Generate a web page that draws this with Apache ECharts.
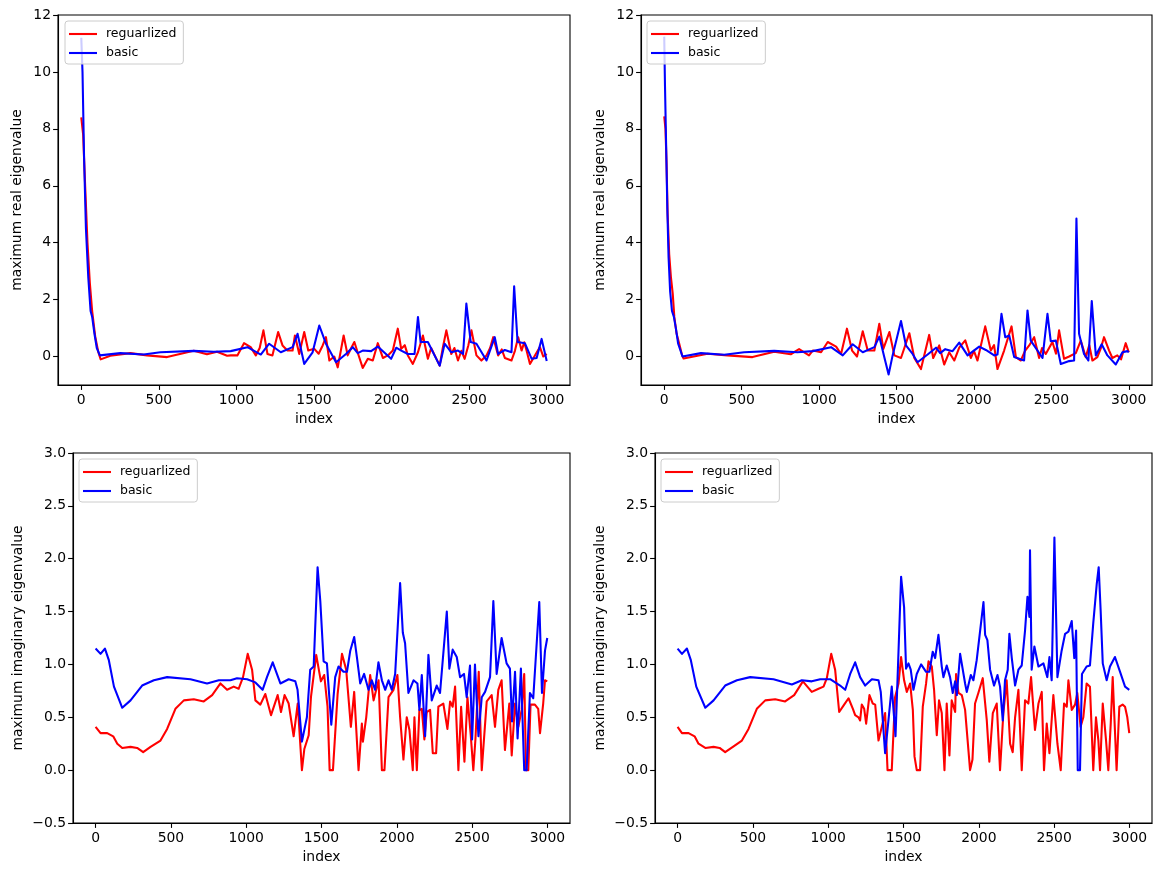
<!DOCTYPE html>
<html>
<head>
<meta charset="utf-8">
<script src="https://cdn.jsdelivr.net/npm/echarts@6/dist/echarts.min.js"></script>
<style>
html,body{margin:0;padding:0;background:#fff;}
#chart{width:1164px;height:876px;}
</style>
</head>
<body>
<div id="chart"></div>
<script>
// ---- data: [index, value] pairs ----
const seriesNames = ['reguarlized', 'basic'];
const xTicks = [0, 500, 1000, 1500, 2000, 2500, 3000];
const yTicksReal = [0, 2, 4, 6, 8, 10, 12];
const yTicksImag = [-0.5, 0, 0.5, 1.0, 1.5, 2.0, 2.5, 3.0];
const xLabel = 'index';
const yLabelReal = 'maximum real eigenvalue';
const yLabelImag = 'maximum imaginary eigenvalue';

// top-left: real part, run A
const realRegA = [[0,8.4],[12,7.8],[25,6.0],[40,4.0],[55,2.6],[70,1.6],[90,0.7],[110,0.15],[125,-0.1],[187,0.03],[316,0.12],[424,0.04],[553,-0.02],[725,0.2],[810,0.08],[875,0.17],[940,0.03],[963,0.04],[1006,0.04],[1049,0.47],[1092,0.33],[1125,0.04],[1150,0.3],[1174,0.92],[1200,0.09],[1232,0.04],[1269,0.86],[1297,0.39],[1329,0.21],[1362,0.21],[1377,0.74],[1405,0.09],[1437,0.86],[1463,0.21],[1502,0.27],[1530,0.1],[1556,0.39],[1577,0.68],[1599,-0.14],[1631,0.0],[1653,-0.38],[1691,0.74],[1717,0.04],[1740,0.3],[1760,0.51],[1793,-0.05],[1814,-0.4],[1847,-0.08],[1879,-0.14],[1911,0.47],[1944,-0.05],[1976,0.04],[2008,0.21],[2040,0.98],[2062,0.27],[2085,0.4],[2105,0.04],[2137,-0.26],[2170,0.15],[2202,0.74],[2234,-0.08],[2255,0.3],[2278,0.04],[2310,-0.32],[2330,0.3],[2353,0.92],[2385,0.09],[2405,0.3],[2428,-0.14],[2450,0.2],[2471,-0.08],[2495,0.4],[2515,0.92],[2547,0.04],[2579,-0.14],[2612,0.04],[2635,0.3],[2655,0.68],[2687,0.04],[2710,0.25],[2730,-0.05],[2773,-0.14],[2795,0.2],[2816,0.68],[2838,0.21],[2855,0.5],[2870,0.21],[2892,-0.26],[2924,0.04],[2956,0.33],[2978,0.0],[3000,0.09]];
const realBasicA = [[0,11.2],[8,10.0],[18,7.0],[30,4.5],[45,2.8],[60,1.6],[70,1.4],[85,0.8],[100,0.3],[120,0.04],[252,0.12],[402,0.07],[510,0.15],[725,0.2],[854,0.17],[963,0.19],[1071,0.33],[1157,0.07],[1211,0.45],[1286,0.15],[1362,0.33],[1394,0.8],[1437,-0.26],[1491,0.15],[1534,1.09],[1577,0.45],[1642,-0.2],[1706,0.09],[1750,0.33],[1782,0.12],[1814,0.21],[1868,0.19],[1911,0.35],[1997,-0.08],[2030,0.31],[2062,0.21],[2105,0.09],[2148,0.09],[2170,1.39],[2187,0.51],[2234,0.51],[2310,-0.32],[2342,0.45],[2385,0.15],[2428,0.21],[2461,0.09],[2482,1.86],[2510,0.51],[2547,0.45],[2612,-0.14],[2665,0.68],[2687,0.09],[2730,0.23],[2773,0.15],[2790,2.47],[2812,0.51],[2859,0.47],[2903,-0.08],[2935,-0.05],[2967,0.62],[3000,-0.16]];

// top-right: real part, run B
const realRegB = [[0,8.44],[8,8.0],[15,6.8],[22,5.0],[32,3.6],[43,2.8],[55,2.2],[65,1.4],[80,0.8],[97,0.45],[115,0.05],[125,-0.07],[280,0.1],[408,0.04],[570,-0.02],[710,0.17],[817,0.08],[871,0.26],[935,0.04],[959,0.21],[1013,0.15],[1056,0.51],[1110,0.35],[1142,0.09],[1180,0.98],[1213,0.21],[1245,0.0],[1282,0.89],[1314,0.21],[1357,0.21],[1389,1.15],[1415,0.27],[1454,0.86],[1486,0.04],[1529,-0.05],[1583,0.82],[1615,-0.05],[1658,-0.44],[1711,0.76],[1737,-0.05],[1776,0.39],[1808,-0.28],[1840,0.15],[1873,-0.14],[1905,0.31],[1944,0.57],[1980,-0.05],[2000,0.2],[2023,-0.14],[2073,1.06],[2109,0.21],[2130,0.4],[2152,-0.44],[2195,0.21],[2243,1.06],[2271,-0.02],[2303,-0.14],[2330,0.2],[2357,0.39],[2389,0.68],[2421,-0.05],[2440,0.3],[2464,0.09],[2507,0.51],[2530,0.1],[2550,0.92],[2582,-0.08],[2615,0.0],[2658,0.12],[2690,0.56],[2722,-0.02],[2745,0.4],[2765,-0.14],[2797,-0.02],[2820,0.3],[2840,0.68],[2873,0.21],[2894,-0.05],[2926,0.04],[2950,-0.1],[2980,0.47],[3000,0.15]];
const realBasicB = [[0,11.24],[5,9.5],[12,7.5],[20,5.2],[28,3.5],[38,2.3],[50,1.6],[62,1.4],[75,1.0],[90,0.45],[118,0.0],[237,0.12],[387,0.06],[516,0.15],[710,0.2],[860,0.15],[959,0.19],[1077,0.33],[1153,0.04],[1217,0.43],[1282,0.15],[1357,0.33],[1389,0.7],[1421,-0.02],[1449,-0.63],[1475,0.04],[1529,1.25],[1561,0.39],[1604,0.09],[1636,-0.2],[1701,0.07],[1755,0.31],[1782,0.12],[1815,0.26],[1862,0.19],[1905,0.49],[1959,0.04],[2034,0.35],[2077,0.23],[2131,0.04],[2152,0.07],[2178,1.5],[2202,0.68],[2228,0.74],[2260,-0.02],[2324,-0.14],[2346,1.62],[2367,0.56],[2443,-0.05],[2475,1.5],[2496,0.54],[2529,0.56],[2561,-0.26],[2615,-0.16],[2647,-0.14],[2662,4.85],[2679,0.8],[2711,0.09],[2739,-0.14],[2761,1.95],[2787,0.04],[2825,0.43],[2862,0.04],[2916,-0.28],[2959,0.15],[2991,0.19],[3000,0.15]];

// bottom-left: imaginary part, run A
const imagRegA = [[0,0.41],[33,0.35],[77,0.35],[117,0.32],[144,0.25],[177,0.21],[232,0.22],[276,0.21],[316,0.17],[365,0.22],[431,0.28],[475,0.39],[530,0.58],[586,0.66],[652,0.67],[718,0.65],[774,0.71],[829,0.82],[873,0.76],[917,0.79],[950,0.77],[979,0.88],[1010,1.1],[1039,0.95],[1061,0.66],[1094,0.62],[1127,0.72],[1165,0.52],[1209,0.71],[1231,0.55],[1255,0.71],[1282,0.63],[1315,0.32],[1342,0.63],[1370,0],[1386,0.2],[1415,0.33],[1430,0.69],[1465,1.09],[1496,0.84],[1518,0.9],[1540,0.6],[1554,0],[1576,0],[1607,0.72],[1636,1.1],[1664,0.95],[1695,0.41],[1717,0.74],[1746,0],[1768,0.44],[1775,0.27],[1797,0.5],[1823,0.9],[1846,0.66],[1879,0.85],[1901,0],[1918,0],[1945,0.69],[1978,0.76],[2004,0.9],[2022,0.5],[2044,0.1],[2066,0.5],[2084,0.38],[2106,0],[2117,0.5],[2133,0],[2150,0.57],[2166,0.58],[2183,0.29],[2199,0.55],[2221,0.57],[2239,0.16],[2261,0.16],[2276,0.6],[2309,0.63],[2336,0.39],[2354,0.65],[2371,0.6],[2387,0.79],[2409,0],[2427,0.6],[2449,0.08],[2469,0.69],[2491,0.33],[2508,0],[2522,0.29],[2544,0.93],[2564,0],[2575,0],[2597,0.65],[2630,0.71],[2652,0.41],[2674,0.76],[2696,0.85],[2718,0.19],[2747,0.63],[2763,0.14],[2785,0.63],[2807,0.41],[2829,0.57],[2846,0.91],[2858,0],[2873,0],[2888,0.62],[2917,0.62],[2939,0.58],[2951,0.35],[2972,0.63],[2984,0.85],[2999,0.84]];
const imagBasicA = [[0,1.15],[33,1.1],[62,1.15],[88,1.04],[122,0.79],[177,0.59],[232,0.66],[309,0.8],[387,0.85],[475,0.88],[630,0.86],[740,0.82],[818,0.85],[895,0.85],[939,0.87],[1006,0.86],[1061,0.83],[1109,0.76],[1138,0.88],[1176,1.02],[1227,0.82],[1282,0.86],[1326,0.84],[1341,0.76],[1370,0.27],[1403,0.5],[1425,0.95],[1448,0.98],[1474,1.92],[1492,1.6],[1514,1.03],[1536,1.01],[1565,0.43],[1591,0.88],[1613,0.98],[1646,0.93],[1669,0.93],[1691,1.13],[1717,1.26],[1735,1.07],[1757,0.82],[1783,0.91],[1812,0.76],[1834,0.85],[1856,0.76],[1878,1.02],[1901,0.85],[1923,0.76],[1945,0.85],[1967,0.76],[1989,0.91],[2022,1.77],[2040,1.3],[2055,1.2],[2077,0.73],[2111,0.85],[2137,0.82],[2150,0.57],[2166,0.9],[2188,0.32],[2210,1.09],[2232,0.66],[2265,0.8],[2287,0.73],[2332,1.5],[2349,0.96],[2371,1.14],[2398,1.07],[2420,0.88],[2446,0.91],[2464,0.69],[2486,0.99],[2500,0.29],[2519,1.0],[2542,0.32],[2564,0.69],[2586,0.74],[2619,0.88],[2641,1.6],[2663,0.91],[2696,1.25],[2729,1.01],[2751,0.96],[2765,0.46],[2785,0.93],[2802,0.3],[2824,0.96],[2846,0],[2862,0],[2884,0.73],[2906,0.68],[2946,1.59],[2964,0.73],[2984,1.13],[2999,1.25]];

// bottom-right: imaginary part, run B
const imagRegB = [[0,0.41],[29,0.35],[73,0.35],[113,0.32],[139,0.25],[184,0.21],[239,0.22],[279,0.21],[316,0.17],[367,0.22],[427,0.28],[471,0.39],[526,0.58],[582,0.66],[648,0.67],[714,0.65],[774,0.71],[832,0.84],[891,0.74],[936,0.77],[969,0.79],[991,0.87],[1020,1.1],[1046,0.95],[1073,0.55],[1106,0.62],[1135,0.68],[1164,0.58],[1179,0.52],[1201,0.5],[1212,0.47],[1223,0.62],[1239,0.58],[1252,0.44],[1274,0.71],[1296,0.63],[1312,0.62],[1334,0.28],[1356,0.41],[1378,0.54],[1394,0],[1422,0],[1444,0.69],[1467,0.82],[1484,1.07],[1504,0.85],[1522,0.74],[1544,0.82],[1562,0.57],[1573,0.13],[1588,0],[1610,0],[1628,0.6],[1650,0.82],[1666,1.03],[1688,0.98],[1703,0.76],[1721,0.33],[1736,0.66],[1754,0.54],[1772,0],[1787,0.63],[1805,0.14],[1820,0.66],[1843,0.55],[1849,0.91],[1865,0.73],[1887,0.71],[1909,0.57],[1942,0],[1958,0.1],[1975,0.63],[1997,0.73],[2026,0.87],[2053,0.47],[2070,0.08],[2093,0.54],[2119,0.63],[2141,0],[2163,0.54],[2185,0.85],[2208,0.25],[2225,0.17],[2241,0.5],[2263,0.76],[2285,0],[2307,0.66],[2329,0.63],[2347,0.88],[2373,0.38],[2396,0.63],[2418,0.74],[2433,0],[2451,0.44],[2469,0.16],[2495,0.71],[2522,0.25],[2544,0],[2566,0.63],[2584,0.6],[2595,0.85],[2617,0.57],[2639,0.62],[2654,0.73],[2676,0.41],[2694,0.5],[2716,0.82],[2738,0.79],[2760,0],[2778,0.5],[2794,0.28],[2805,0],[2823,0.63],[2845,0.28],[2860,0],[2876,0.44],[2889,0.88],[2915,0],[2933,0.6],[2955,0.62],[2971,0.6],[2986,0.5],[2999,0.35]];
const imagBasicB = [[0,1.15],[29,1.1],[62,1.15],[88,1.04],[124,0.79],[184,0.59],[239,0.66],[316,0.8],[394,0.85],[482,0.88],[637,0.86],[759,0.81],[825,0.85],[891,0.84],[947,0.86],[1013,0.86],[1079,0.8],[1113,0.76],[1146,0.91],[1179,1.02],[1212,0.88],[1245,0.8],[1290,0.86],[1334,0.85],[1349,0.74],[1378,0.16],[1400,0.47],[1422,0.79],[1447,0.32],[1467,1.13],[1484,1.83],[1504,1.54],[1517,0.96],[1533,1.01],[1548,0.95],[1566,0.76],[1588,0.91],[1617,1.0],[1650,0.93],[1672,0.93],[1694,1.12],[1710,1.06],[1732,1.28],[1754,0.98],[1765,0.88],[1787,0.99],[1809,0.88],[1827,0.73],[1843,0.84],[1854,0.71],[1876,1.1],[1909,0.82],[1920,0.74],[1947,0.9],[1964,0.85],[1986,1.04],[2031,1.59],[2042,1.28],[2057,1.23],[2075,0.95],[2101,0.8],[2124,0.9],[2141,0.79],[2159,0.47],[2174,0.85],[2192,0.95],[2203,1.29],[2219,1.06],[2241,0.8],[2263,0.95],[2285,0.99],[2307,1.32],[2323,1.64],[2336,1.45],[2340,2.08],[2351,0.95],[2369,1.17],[2396,0.98],[2429,1.01],[2455,0.88],[2469,1.07],[2484,0.85],[2502,2.2],[2522,0.88],[2550,1.13],[2573,1.29],[2595,1.31],[2617,1.41],[2634,1.06],[2646,1.32],[2657,0],[2672,0],[2685,0.91],[2716,0.98],[2738,0.99],[2760,1.39],[2783,1.76],[2796,1.92],[2809,1.51],[2823,1.01],[2849,0.85],[2871,0.98],[2904,1.07],[2938,0.93],[2971,0.79],[2999,0.76]];

// ---- styling ----
const FONT = 'DejaVu Sans';
const TICK_FS = 13.9;
const RED = '#ff0000', BLUE = '#0000ff';
const LW = 2.08;

const grids = [
  {left: 58,  top: 15,  width: 512, height: 370},
  {left: 641, top: 15,  width: 511, height: 370},
  {left: 73,  top: 453, width: 497, height: 370},
  {left: 655, top: 453, width: 497, height: 370}
];
const yNameGaps = [34, 34, 48, 48];

function fmtNum(v) {
  return String(v).replace('-', '\u2212');
}
function fmtImag(v) {
  return v.toFixed(1).replace('-', '\u2212');
}

const option = {
  animation: false,
  backgroundColor: '#fff',
  textStyle: {fontFamily: FONT},
  grid: grids.map(g => Object.assign({show: true, borderColor: '#000', borderWidth: 1.1, containLabel: false}, g)),
  xAxis: grids.map((g, i) => ({
    type: 'value', gridIndex: i, min: -150, max: 3150,
    name: xLabel, nameLocation: 'middle', nameGap: 27,
    nameTextStyle: {fontFamily: FONT, fontSize: TICK_FS, color: '#000'},
    axisLine: {show: true, onZero: false, lineStyle: {color: '#000', width: 1.1}},
    axisTick: {show: true, length: 4.9, inside: false, customValues: xTicks, lineStyle: {color: '#000', width: 1.1}},
    axisLabel: {show: true, margin: 8, customValues: xTicks, fontFamily: FONT, fontSize: TICK_FS, color: '#000', formatter: fmtNum},
    splitLine: {show: false}
  })),
  yAxis: grids.map((g, i) => {
    const real = i < 2;
    const base = {
      type: 'value', gridIndex: i,
      name: real ? yLabelReal : yLabelImag, nameLocation: 'middle', nameGap: yNameGaps[i], nameRotate: 90,
      nameTextStyle: {fontFamily: FONT, fontSize: TICK_FS, color: '#000'},
      axisLine: {show: true, onZero: false, lineStyle: {color: '#000', width: 1.1}},
      splitLine: {show: false}
    };
    if (real) {
      base.min = -1; base.max = 12;
      base.axisTick = {show: true, length: 4.9, customValues: yTicksReal, lineStyle: {color: '#000', width: 1.1}};
      base.axisLabel = {show: true, margin: 7, customValues: yTicksReal, fontFamily: FONT, fontSize: TICK_FS, color: '#000', formatter: fmtNum};
    } else {
      base.min = -0.5; base.max = 3.0;
      base.axisTick = {show: true, length: 4.9, customValues: yTicksImag, lineStyle: {color: '#000', width: 1.1}};
      base.axisLabel = {show: true, margin: 7, customValues: yTicksImag, fontFamily: FONT, fontSize: TICK_FS, color: '#000', formatter: fmtImag};
    }
    return base;
  }),
  legend: [
    {left: 65, top: 21},
    {left: 647, top: 21},
    {left: 79, top: 459},
    {left: 661, top: 459}
  ].map(p => Object.assign({
    orient: 'vertical', selectedMode: false,
    data: seriesNames.map(n => ({name: n, icon: 'rect'})),
    itemWidth: 28, itemHeight: 2.1, itemGap: 5,
    padding: [6, 7, 4, 4],
    backgroundColor: 'rgba(255,255,255,0.8)', borderColor: '#cccccc', borderWidth: 1, borderRadius: 3,
    textStyle: {fontFamily: FONT, fontSize: 12.5, lineHeight: 14, color: '#000', padding: [0, 0, 0, 4]}
  }, p)),
  series: []
};

const sets = [[realRegA, realBasicA], [realRegB, realBasicB], [imagRegA, imagBasicA], [imagRegB, imagBasicB]];
sets.forEach((pair, i) => {
  [RED, BLUE].forEach((c, k) => {
    option.series.push({
      type: 'line', name: seriesNames[k], xAxisIndex: i, yAxisIndex: i,
      data: pair[k], symbol: 'none', showSymbol: false, smooth: false,
      lineStyle: {color: c, width: LW, join: 'round', cap: 'butt'},
      itemStyle: {color: c},
      emphasis: {disabled: true}, silent: true, z: 2 + k
    });
  });
});

const chart = echarts.init(document.getElementById('chart'), null, {renderer: 'canvas'});
chart.setOption(option);
</script>
</body>
</html>
